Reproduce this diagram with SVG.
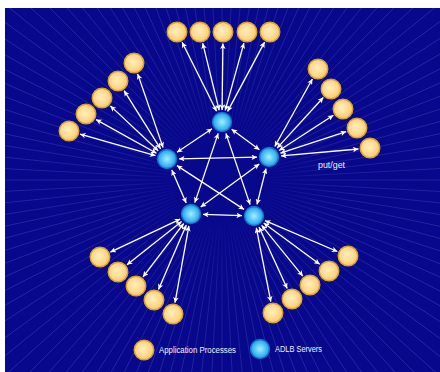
<svg xmlns="http://www.w3.org/2000/svg" xmlns:xlink="http://www.w3.org/1999/xlink" width="440" height="372" viewBox="0 0 440 372">
<style>
.bg{fill:#08088c}
.ray{stroke:#7d82e0;stroke-width:0.6;stroke-opacity:0.4}
.app{fill:url(#gApp);stroke:#d9a22a;stroke-width:1.4}
.srv{fill:url(#gSrv);stroke:#1570c8;stroke-width:1.4}
.con line{stroke:#ffffff;stroke-width:1.3;marker-start:url(#ah);marker-end:url(#ah)}
.lbl{font-family:"Liberation Sans",Arial,sans-serif;font-size:8.5px;fill:#f0f1fa}
</style>
<defs>
<radialGradient id="gApp" cx="0.45" cy="0.45" r="0.6">
<stop offset="0" stop-color="#ffeec4"/>
<stop offset="0.6" stop-color="#ffd98a"/>
<stop offset="1" stop-color="#f8c45a"/>
</radialGradient>
<radialGradient id="gSrv" cx="0.5" cy="0.5" r="0.55">
<stop offset="0" stop-color="#a8ecff"/>
<stop offset="0.55" stop-color="#4cc3f4"/>
<stop offset="1" stop-color="#1d8fe0"/>
</radialGradient>
<radialGradient id="gFade" cx="222" cy="180" r="260" gradientUnits="userSpaceOnUse">
<stop offset="0" stop-color="#fff" stop-opacity="0"/>
<stop offset="0.12" stop-color="#fff" stop-opacity="0"/>
<stop offset="0.4" stop-color="#fff" stop-opacity="0.7"/>
<stop offset="1" stop-color="#fff" stop-opacity="1"/>
</radialGradient>
<mask id="mFade"><rect x="0" y="0" width="440" height="372" fill="url(#gFade)"/></mask>
<clipPath id="clipBg"><rect x="5" y="8" width="435" height="364"/></clipPath>
<marker id="ah" viewBox="0 0 10 10" refX="10" refY="5" markerWidth="7" markerHeight="5.5" orient="auto-start-reverse" markerUnits="userSpaceOnUse">
<path d="M0,0 L10,5 L0,10 L2.5,5 z" fill="#ffffff"/>
</marker>
<line id="ray" class="ray" x1="0" y1="0" x2="420" y2="0"/>
<g id="r6">
<use xlink:href="#ray"/>
<use xlink:href="#ray" transform="rotate(3)"/>
<use xlink:href="#ray" transform="rotate(6)"/>
<use xlink:href="#ray" transform="rotate(9)"/>
<use xlink:href="#ray" transform="rotate(12)"/>
<use xlink:href="#ray" transform="rotate(15)"/>
</g>
</defs>
<rect x="0" y="0" width="440" height="372" fill="#ffffff"/>
<rect class="bg" x="5" y="8" width="435" height="364"/>
<g id="rays" clip-path="url(#clipBg)" mask="url(#mFade)">
<g transform="translate(222,180)">
<use xlink:href="#r6"/>
<use xlink:href="#r6" transform="rotate(18)"/>
<use xlink:href="#r6" transform="rotate(36)"/>
<use xlink:href="#r6" transform="rotate(54)"/>
<use xlink:href="#r6" transform="rotate(72)"/>
<use xlink:href="#r6" transform="rotate(90)"/>
<use xlink:href="#r6" transform="rotate(108)"/>
<use xlink:href="#r6" transform="rotate(126)"/>
<use xlink:href="#r6" transform="rotate(144)"/>
<use xlink:href="#r6" transform="rotate(162)"/>
<use xlink:href="#r6" transform="rotate(180)"/>
<use xlink:href="#r6" transform="rotate(198)"/>
<use xlink:href="#r6" transform="rotate(216)"/>
<use xlink:href="#r6" transform="rotate(234)"/>
<use xlink:href="#r6" transform="rotate(252)"/>
<use xlink:href="#r6" transform="rotate(270)"/>
<use xlink:href="#r6" transform="rotate(288)"/>
<use xlink:href="#r6" transform="rotate(306)"/>
<use xlink:href="#r6" transform="rotate(324)"/>
<use xlink:href="#r6" transform="rotate(342)"/>
</g>
</g>

<g id="connectors" class="con">
<line x1="182.1" y1="42.3" x2="216.6" y2="111.3"/>
<line x1="202.7" y1="43.2" x2="219.2" y2="110.3"/>
<line x1="222.9" y1="43.5" x2="222.1" y2="110"/>
<line x1="243.9" y1="43.1" x2="225.2" y2="110.4"/>
<line x1="264.6" y1="42.1" x2="227.6" y2="111.4"/>
<line x1="137.7" y1="73.9" x2="163.1" y2="147.6"/>
<line x1="124.1" y1="90.7" x2="160.6" y2="148.8"/>
<line x1="110.4" y1="105.9" x2="158.2" y2="150.8"/>
<line x1="96.1" y1="119.6" x2="156.5" y2="153.2"/>
<line x1="80.1" y1="134.2" x2="155.5" y2="155.7"/>
<line x1="312.4" y1="79" x2="274.8" y2="146.5"/>
<line x1="323.3" y1="97.5" x2="277.1" y2="148.1"/>
<line x1="333.4" y1="115.3" x2="279.1" y2="150.5"/>
<line x1="346.1" y1="131.6" x2="280.4" y2="153.2"/>
<line x1="358.5" y1="149" x2="281" y2="155.9"/>
<line x1="110.4" y1="252.1" x2="180.2" y2="219.1"/>
<line x1="127" y1="264.8" x2="181.6" y2="221.5"/>
<line x1="143" y1="276.9" x2="183.7" y2="223.5"/>
<line x1="158.5" y1="289.4" x2="186.3" y2="225"/>
<line x1="175" y1="302.7" x2="188.9" y2="225.8"/>
<line x1="337.4" y1="251.5" x2="265" y2="220.7"/>
<line x1="319.7" y1="264.2" x2="263.7" y2="223.1"/>
<line x1="302.8" y1="276.1" x2="261.6" y2="225.3"/>
<line x1="287.2" y1="288.5" x2="259" y2="226.9"/>
<line x1="270.8" y1="301.7" x2="256.3" y2="227.8"/>
<line x1="212" y1="128.7" x2="177" y2="152.3"/>
<line x1="231.6" y1="129.2" x2="259.4" y2="149.8"/>
<line x1="218.2" y1="133.4" x2="194.8" y2="202.6"/>
<line x1="225.9" y1="133.4" x2="250.1" y2="204.6"/>
<line x1="179" y1="158.8" x2="257" y2="157.2"/>
<line x1="171.8" y1="170" x2="186.2" y2="203"/>
<line x1="177" y1="165.6" x2="244" y2="209.4"/>
<line x1="259.3" y1="164.1" x2="200.7" y2="206.9"/>
<line x1="266" y1="168.6" x2="257" y2="204.4"/>
<line x1="203" y1="214.4" x2="242" y2="215.6"/>
</g>

<g id="servers">
<g id="srv-top"><circle class="srv" cx="222" cy="122" r="9.5"/></g>
<g id="srv-left"><circle class="srv" cx="167" cy="159" r="9.5"/></g>
<g id="srv-right"><circle class="srv" cx="269" cy="157" r="9.5"/></g>
<g id="srv-bl"><circle class="srv" cx="191" cy="214" r="9.5"/></g>
<g id="srv-br"><circle class="srv" cx="254" cy="216" r="9.5"/></g>
</g>

<g id="apps">
<g id="app-t1"><circle class="app" cx="177" cy="32" r="9.8"/></g>
<g id="app-t2"><circle class="app" cx="200" cy="32" r="9.8"/></g>
<g id="app-t3"><circle class="app" cx="223" cy="32" r="9.8"/></g>
<g id="app-t4"><circle class="app" cx="247" cy="32" r="9.8"/></g>
<g id="app-t5"><circle class="app" cx="270" cy="32" r="9.8"/></g>
<g id="app-l1"><circle class="app" cx="134" cy="63" r="9.8"/></g>
<g id="app-l2"><circle class="app" cx="118" cy="81" r="9.8"/></g>
<g id="app-l3"><circle class="app" cx="102" cy="98" r="9.8"/></g>
<g id="app-l4"><circle class="app" cx="86" cy="114" r="9.8"/></g>
<g id="app-l5"><circle class="app" cx="69" cy="131" r="9.8"/></g>
<g id="app-r1"><circle class="app" cx="318" cy="69" r="9.8"/></g>
<g id="app-r2"><circle class="app" cx="331" cy="89" r="9.8"/></g>
<g id="app-r3"><circle class="app" cx="343" cy="109" r="9.8"/></g>
<g id="app-r4"><circle class="app" cx="357" cy="128" r="9.8"/></g>
<g id="app-r5"><circle class="app" cx="370" cy="148" r="9.8"/></g>
<g id="app-bl1"><circle class="app" cx="100" cy="257" r="9.8"/></g>
<g id="app-bl2"><circle class="app" cx="118" cy="272" r="9.8"/></g>
<g id="app-bl3"><circle class="app" cx="136" cy="286" r="9.8"/></g>
<g id="app-bl4"><circle class="app" cx="154" cy="300" r="9.8"/></g>
<g id="app-bl5"><circle class="app" cx="173" cy="314" r="9.8"/></g>
<g id="app-br1"><circle class="app" cx="348" cy="256" r="9.8"/></g>
<g id="app-br2"><circle class="app" cx="329" cy="271" r="9.8"/></g>
<g id="app-br3"><circle class="app" cx="310" cy="285" r="9.8"/></g>
<g id="app-br4"><circle class="app" cx="292" cy="299" r="9.8"/></g>
<g id="app-br5"><circle class="app" cx="273" cy="313" r="9.8"/></g>
</g>

<g id="label-putget"><text class="lbl" x="318" y="168" textLength="27" lengthAdjust="spacingAndGlyphs">put/get</text></g>

<g id="legend">
<g id="legend-app"><circle class="app" cx="144" cy="350" r="9.8"/>
<text class="lbl" x="159" y="353" textLength="77" lengthAdjust="spacingAndGlyphs">Application Processes</text></g>
<g id="legend-srv"><circle class="srv" cx="260" cy="349" r="9.5"/>
<text class="lbl" x="275" y="352" textLength="47" lengthAdjust="spacingAndGlyphs">ADLB Servers</text></g>
</g>
</svg>
